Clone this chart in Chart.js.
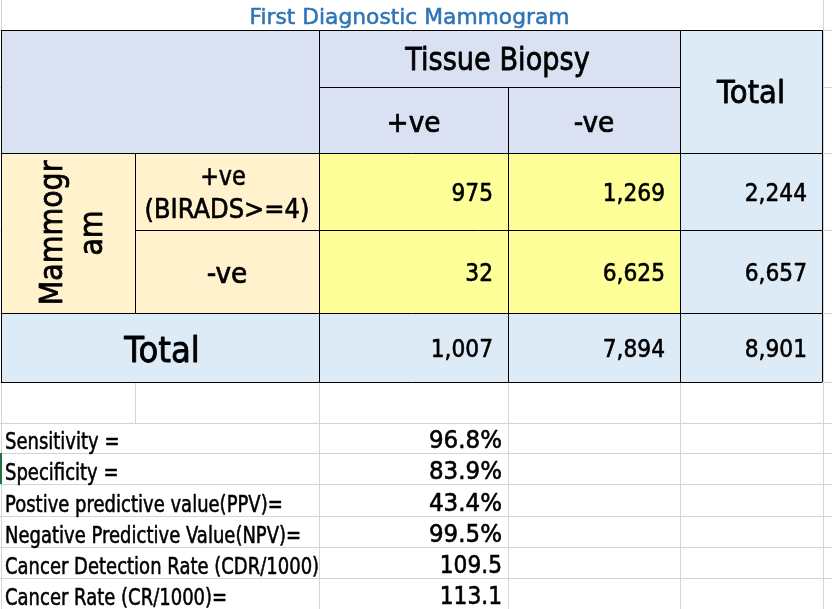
<!DOCTYPE html>
<html>
<head>
<meta charset="utf-8">
<script src="https://cdn.jsdelivr.net/npm/chart.js@4.4.0/dist/chart.umd.min.js"></script>
<style>
  html, body { margin: 0; padding: 0; background: #fff; }
  #wrap { width: 832px; height: 609px; }
</style>
</head>
<body>
<div id="wrap"><canvas id="sheet"></canvas></div>
<script>
// --- data ---
const title = 'First Diagnostic Mammogram';
const biopsyTitle = 'Tissue Biopsy';
const biopsyCats = ['+ve', '-ve'];
const mammoTitle = ['Mammogr', 'am'];
const mammoCats = [['+ve', '(BIRADS>=4)'], ['-ve']];
const totalLabel = 'Total';
const biopsyPos = [975, 32];
const biopsyNeg = [1269, 6625];
const rowTotals = [2244, 6657];
const colTotals = [1007, 7894];
const grandTotal = 8901;
const metricLabels = [
  'Sensitivity =',
  'Specificity =',
  'Postive predictive value(PPV)=',
  'Negative Predictive Value(NPV)=',
  'Cancer Detection Rate (CDR/1000)',
  'Cancer Rate (CR/1000)='
];
const metricValues = [96.8, 83.9, 43.4, 99.5, 109.5, 113.1];
const metricUnits = ['%', '%', '%', '%', '', ''];

// --- sheet layout (column / row borders in sheet units) ---
const colEdges = [1, 135, 319, 508, 680, 822];
const rowEdges = [30, 87, 153, 230, 313, 382, 423, 453, 484, 516, 547, 578, 609];

const mid = (a, b) => (a + b) / 2;

// one invisible point per number cell, the labels are drawn at those points
const cellPoints = [];
[biopsyPos, biopsyNeg, rowTotals].forEach((arr, c) => {
  arr.forEach((v, r) => {
    cellPoints.push({ x: colEdges[c + 3] - 15, y: mid(rowEdges[r + 2], rowEdges[r + 3]), v: v.toLocaleString('en-US') });
  });
});
colTotals.concat([grandTotal]).forEach((v, c) => {
  cellPoints.push({ x: colEdges[c + 3] - 15, y: mid(rowEdges[4], rowEdges[5]), v: v.toLocaleString('en-US') });
});
const metricPoints = metricValues.map((v, i) => ({
  x: colEdges[3] - 6, y: rowEdges[7 + i], v: v.toFixed(1) + metricUnits[i]
}));

const FONT = '"DejaVu Sans", sans-serif';

// DejaVu squeezed sideways to get close to the sheet's narrow font
function drawText(ctx, s, x, y, size, align, squeeze, opts = {}) {
  ctx.save();
  ctx.font = size + 'px ' + FONT;
  ctx.fillStyle = opts.color || '#000';
  ctx.strokeStyle = opts.color || '#000';
  ctx.lineWidth = size * 0.025;
  ctx.lineJoin = 'round';
  ctx.textAlign = align;
  ctx.textBaseline = 'alphabetic';
  ctx.translate(x, y);
  if (opts.rotate) ctx.rotate(opts.rotate);
  ctx.scale(squeeze, 1);
  ctx.fillText(s, 0, 0);
  ctx.strokeText(s, 0, 0);
  ctx.restore();
}

const sheetPlugin = {
  id: 'sheet',
  beforeDatasetsDraw(chart) {
    const ctx = chart.ctx;
    const X = v => chart.scales.x.getPixelForValue(v);
    const Y = v => chart.scales.y.getPixelForValue(v);
    const rect = (x0, x1, y0, y1, color) => {
      ctx.fillStyle = color;
      ctx.fillRect(X(x0), Y(y0), X(x1) - X(x0), Y(y1) - Y(y0));
    };
    const hline = (y, x0, x1, color) => {
      ctx.strokeStyle = color; ctx.lineWidth = 1;
      ctx.beginPath(); ctx.moveTo(X(x0), Math.round(Y(y)) + 0.5); ctx.lineTo(X(x1), Math.round(Y(y)) + 0.5); ctx.stroke();
    };
    const vline = (x, y0, y1, color) => {
      ctx.strokeStyle = color; ctx.lineWidth = 1;
      ctx.beginPath(); ctx.moveTo(Math.round(X(x)) + 0.5, Y(y0)); ctx.lineTo(Math.round(X(x)) + 0.5, Y(y1)); ctx.stroke();
    };
    const grid = '#d4d4d4';
    const last = rowEdges[rowEdges.length - 1];

    // plain sheet gridlines
    rowEdges.forEach(y => hline(y, 0, 832, grid));
    vline(colEdges[0], 0, last, grid);
    vline(colEdges[5] + 1, 0, last, grid);
    vline(colEdges[1], rowEdges[5], rowEdges[6], grid);
    [2, 3, 4].forEach(c => vline(colEdges[c], rowEdges[5], last, grid));
    // title row is one merged cell
    rect(colEdges[0] + 1, colEdges[5], 0, rowEdges[0], '#ffffff');

    // cell fills
    rect(colEdges[0], colEdges[4], rowEdges[0], rowEdges[2], '#d9e1f2');
    rect(colEdges[4], colEdges[5], rowEdges[0], rowEdges[5], '#ddebf7');
    rect(colEdges[0], colEdges[4], rowEdges[4], rowEdges[5], '#ddebf7');
    rect(colEdges[0], colEdges[2], rowEdges[2], rowEdges[4], '#fff2cc');
    rect(colEdges[2], colEdges[4], rowEdges[2], rowEdges[4], '#ffff99');

    // table borders
    const k = '#000000';
    hline(rowEdges[0], colEdges[0], colEdges[5], k);
    hline(rowEdges[1], colEdges[2], colEdges[4], k);
    hline(rowEdges[2], colEdges[0], colEdges[5], k);
    hline(rowEdges[3], colEdges[1], colEdges[5], k);
    hline(rowEdges[4], colEdges[0], colEdges[5], k);
    hline(rowEdges[5], colEdges[0], colEdges[5], k);
    vline(colEdges[0], rowEdges[0], rowEdges[5], k);
    vline(colEdges[1], rowEdges[2], rowEdges[4], k);
    vline(colEdges[2], rowEdges[0], rowEdges[5], k);
    vline(colEdges[3], rowEdges[1], rowEdges[5], k);
    vline(colEdges[4], rowEdges[0], rowEdges[5], k);
    vline(colEdges[5], rowEdges[0], rowEdges[5], k);

    // active cell marker on the left edge
    rect(0, 2, rowEdges[7], rowEdges[8], '#217346');
  },
  afterDatasetsDraw(chart) {
    const ctx = chart.ctx;
    const X = v => chart.scales.x.getPixelForValue(v);
    const Y = v => chart.scales.y.getPixelForValue(v);

    drawText(ctx, title, X(mid(colEdges[0], colEdges[5]) - 2), Y(24), 22, 'center', 0.99, { color: '#2e75b6' });
    drawText(ctx, biopsyTitle, X(mid(colEdges[2], colEdges[4]) - 2), Y(rowEdges[0] + 40), 32, 'center', 0.85);
    biopsyCats.forEach((s, i) => {
      drawText(ctx, s, X(mid(colEdges[2 + i], colEdges[3 + i])), Y(rowEdges[1] + 45), 29, 'center', 0.91);
    });
    drawText(ctx, totalLabel, X(mid(colEdges[4], colEdges[5])), Y(mid(rowEdges[0], rowEdges[2]) + 11.5), 32, 'center', 0.91);

    // vertical row-group title
    mammoTitle.forEach((s, i) => {
      drawText(ctx, s, X(62 + i * 40), Y(mid(rowEdges[2], rowEdges[4])), 32, 'center', 0.89, { rotate: -Math.PI / 2 });
    });
    // row categories
    drawText(ctx, mammoCats[0][0], X(mid(colEdges[1], colEdges[2]) - 4), Y(rowEdges[2] + 32), 26, 'center', 0.86);
    drawText(ctx, mammoCats[0][1], X(mid(colEdges[1], colEdges[2])), Y(rowEdges[2] + 65), 26, 'center', 0.93);
    drawText(ctx, mammoCats[1][0], X(mid(colEdges[1], colEdges[2])), Y(mid(rowEdges[3], rowEdges[4]) + 11.5), 29, 'center', 0.91);
    drawText(ctx, totalLabel, X(mid(colEdges[0], colEdges[2]) + 2), Y(mid(rowEdges[4], rowEdges[5]) + 14), 36, 'center', 0.9);

    // number cells
    chart.getDatasetMeta(0).data.forEach((el, i) => {
      drawText(ctx, cellPoints[i].v, el.x, el.y + 9.3, 25, 'right', 0.87);
    });

    // metrics below the table
    metricLabels.forEach((s, i) => {
      drawText(ctx, s, X(colEdges[0] + 4), Y(rowEdges[7 + i] - 4.5), 22.5, 'left', 0.8);
    });
    chart.getDatasetMeta(1).data.forEach((el, i) => {
      const s = metricPoints[i].v;
      drawText(ctx, s, el.x, el.y - 5.5, 25, 'right', s.includes('%') ? 0.92 : 0.87);
    });
  }
};

new Chart(document.getElementById('sheet'), {
  type: 'scatter',
  data: {
    datasets: [
      { label: 'cells', data: cellPoints, pointRadius: 0 },
      { label: 'metrics', data: metricPoints, pointRadius: 0 }
    ]
  },
  options: {
    responsive: true,
    maintainAspectRatio: false,
    animation: false,
    events: [],
    layout: { padding: 0 },
    plugins: { legend: { display: false }, tooltip: { enabled: false }, title: { display: false } },
    scales: {
      x: { type: 'linear', min: 0, max: 832, display: false },
      y: { type: 'linear', min: 0, max: 609, reverse: true, display: false }
    }
  },
  plugins: [sheetPlugin]
});
</script>
</body>
</html>
